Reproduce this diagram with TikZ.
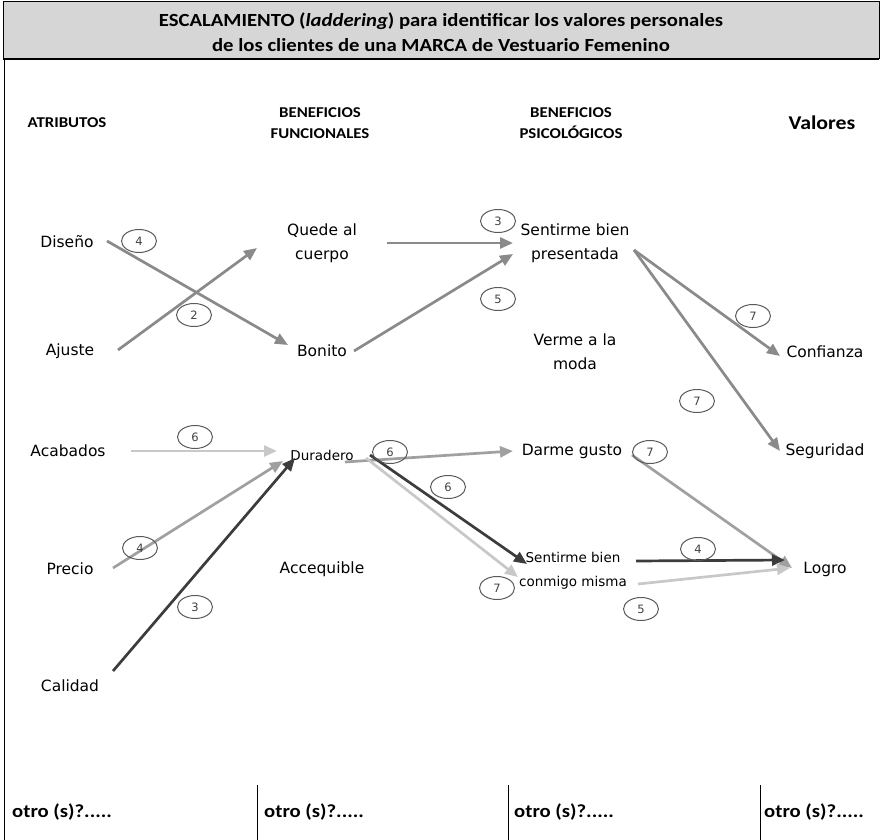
\documentclass[tikz,border=0pt]{standalone}
\usepackage{fontspec}
\setmainfont{DejaVu Sans}
\newfontfamily\calib[FakeStretch=1.12]{Carlito}
\usetikzlibrary{arrows.meta,shapes.geometric}

\definecolor{lightln}{HTML}{C8C8C8}
\definecolor{midln}{HTML}{8A8A8A}
\definecolor{softln}{HTML}{A0A0A0}
\definecolor{darkln}{HTML}{3C3C3C}
\definecolor{titlebg}{HTML}{D6D6D6}

\begin{document}
\begin{tikzpicture}[x=1pt,y=-1pt,
  lbl/.style={font=\fontsize{15.5}{24}\selectfont, align=center, inner sep=1pt},
  sml/.style={font=\fontsize{13.5}{24}\selectfont, align=center, inner sep=1pt},
  hdr/.style={font=\calib\bfseries\fontsize{15}{21}\selectfont, align=center, inner sep=1pt},
  foot/.style={font=\calib\bfseries\fontsize{18.5}{20}\selectfont, anchor=west, inner sep=0pt},
  num/.style={ellipse, draw=black!65, line width=1pt, minimum width=35, minimum height=23,
    inner sep=0pt, font=\fontsize{11.5}{11.5}\selectfont, text=black!75},
  link/.style={line width=2.7pt, -{Triangle[length=13pt,width=11pt]}},
]
\useasboundingbox (0,0) rectangle (881,840);

% frame and title bar
\draw[line width=1pt] (4,2) -- (4,840);
\draw[fill=titlebg, line width=1pt] (3,2) rectangle (879,59);
\draw[line width=2.2pt] (3,59) -- (879,59);
\node[font=\calib\bfseries\fontsize{18.5}{25}\selectfont, align=center] (title) at (441,32)
  {ESCALAMIENTO (\textit{laddering}) para identificar los valores personales\\
   de los clientes de una MARCA de Vestuario Femenino};

% column headings
\node[hdr] (h1) at (67,123) {ATRIBUTOS};
\node[hdr] (h2) at (320,123) {BENEFICIOS\\FUNCIONALES};
\node[hdr] (h3) at (571,123) {BENEFICIOS\\PSICOLÓGICOS};
\node[hdr, font=\calib\bfseries\fontsize{19.5}{21}\selectfont] (h4) at (822,123) {Valores};

% attributes
\node[lbl] (dis) at (67,242) {Diseño};
\node[lbl] (aju) at (70,351) {Ajuste};
\node[lbl] (aca) at (68,451) {Acabados};
\node[lbl] (pre) at (70,569) {Precio};
\node[lbl] (cal) at (70,686) {Calidad};

% functional benefits
\node[lbl] (que) at (322,243) {Quede al\\cuerpo};
\node[lbl] (bon) at (322,351) {Bonito};
\node[sml] (dur) at (322,455) {Duradero};
\node[lbl] (acc) at (322,569) {Accequible};

% psychological benefits
\node[lbl] (sbp) at (575,243) {Sentirme bien\\presentada};
\node[lbl] (ver) at (575,352) {Verme a la\\moda};
\node[lbl] (dar) at (572,451) {Darme gusto};
\node[sml] (sbc) at (573,571) {Sentirme bien\\conmigo misma};

% values
\node[lbl] (con) at (825,352) {Confianza};
\node[lbl] (seg) at (825,451) {Seguridad};
\node[lbl] (log) at (825,569) {Logro};

% links
\draw[link, midln]   ([shift={(40,-1)}]dis.center) -- ([shift={(-34,-6)}]bon.center);
\draw[link, midln]   ([shift={(48,-1)}]aju.center) -- ([shift={(-65,5)}]que.center);
\draw[link, midln]   ([shift={(65,0)}]que.center)  -- ([shift={(-62,0)}]sbp.center);
\draw[link, midln]   ([shift={(32,0)}]bon.center)  -- ([shift={(-62,11)}]sbp.center);
\draw[link, midln]   ([shift={(59,7)}]sbp.center)  -- ([shift={(-45,4)}]con.center);
\draw[link, midln]   ([shift={(59,7)}]sbp.center)  -- ([shift={(-45,0)}]seg.center);
\draw[link, lightln] ([shift={(63,0)}]aca.center)  -- ([shift={(-45,-4)}]dur.center);
\draw[link, softln]  ([shift={(43,-1)}]pre.center) -- ([shift={(-39,6)}]dur.center);
\draw[link, darkln]  ([shift={(43,-15)}]cal.center) -- ([shift={(-27,3)}]dur.center);
\draw[link, softln]  ([shift={(23,7)}]dur.center)  -- ([shift={(-59,0)}]dar.center);
\draw[link, lightln] ([shift={(44,3)}]dur.center)  -- ([shift={(-55,6)}]sbc.center);
\draw[link, darkln]  ([shift={(48,0)}]dur.center)  -- ([shift={(-46,-7)}]sbc.center);
\draw[link, softln]  ([shift={(60,4)}]dar.center)  -- ([shift={(-33,-1)}]log.center);
\draw[link, darkln]  ([shift={(63,-10)}]sbc.center) -- ([shift={(-40,-9)}]log.center);
\draw[link, lightln] ([shift={(65,13)}]sbc.center) -- ([shift={(-35,-1)}]log.center);

% frequency marks
\node[num] (n1)  at (139,241) {4};
\node[num] (n2)  at (194,315) {2};
\node[num] (n3)  at (498,221) {3};
\node[num] (n4)  at (498,299) {5};
\node[num] (n5)  at (753,316) {7};
\node[num] (n6)  at (697,401) {7};
\node[num] (n7)  at (195,437) {6};
\node[num] (n8)  at (140,548) {4};
\node[num] (n9)  at (195,607) {3};
\node[num] (n10) at (390,452) {6};
\node[num] (n11) at (448,487) {6};
\node[num] (n12) at (497,588) {7};
\node[num] (n13) at (650,452) {7};
\node[num] (n14) at (698,549) {4};
\node[num] (n15) at (641,609) {5};

% open answers row
\draw[line width=1pt] (257,785) -- (257,840);
\draw[line width=1pt] (508,785) -- (508,840);
\draw[line width=1pt] (760,785) -- (760,840);
\node[foot] (o1) at (12,812) {otro (s)?.....};
\node[foot] (o2) at (264,812) {otro (s)?.....};
\node[foot] (o3) at (514,812) {otro (s)?.....};
\node[foot] (o4) at (764,812) {otro (s)?.....};
\end{tikzpicture}
\end{document}
